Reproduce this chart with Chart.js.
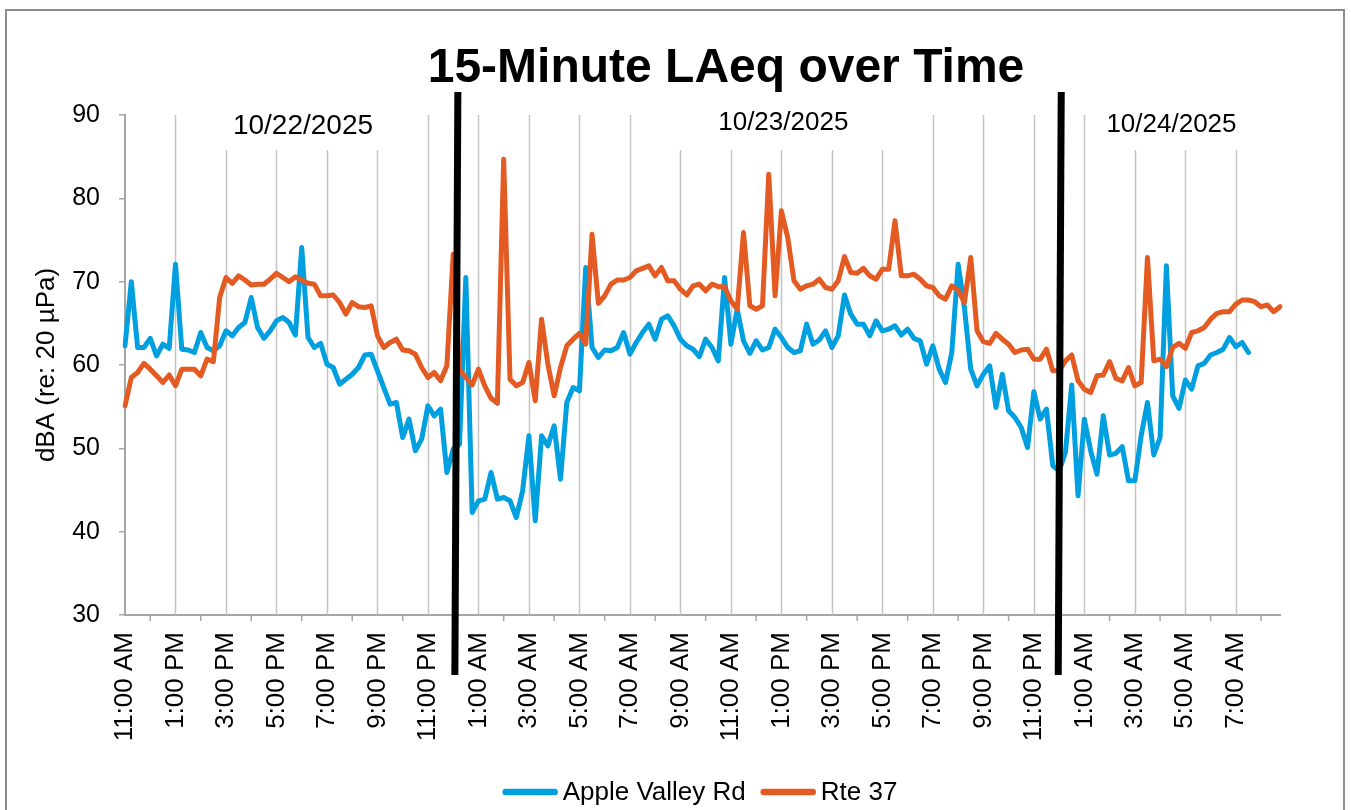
<!DOCTYPE html>
<html>
<head>
<meta charset="utf-8">
<title>15-Minute LAeq over Time</title>
<script src="https://cdn.jsdelivr.net/npm/chart.js@4.4.1/dist/chart.umd.min.js"></script>
<style>
  html, body { margin:0; padding:0; background:#fff; }
  #wrap { width:1351px; height:810px; position:relative; }
</style>
</head>
<body>
<div id="wrap"><canvas id="chart" width="1351" height="810"></canvas></div>
<script>
const FONT = '"Liberation Sans", Arial, sans-serif';

// 15-minute LAeq values (dBA), starting 11:00 AM 10/22/2025
const appleValley = [
  62.3, 70.0, 62.1, 62.1, 63.2, 61.1, 62.5, 62.0, 72.1, 61.9, 61.8, 61.5, 63.9, 62.1, 61.7, 62.3,
  64.1, 63.5, 64.5, 65.1, 68.1, 64.5, 63.2, 64.1, 65.3, 65.7, 65.1, 63.6, 74.1, 63.3, 62.1, 62.6,
  60.1, 59.7, 57.7, 58.3, 58.9, 59.7, 61.2, 61.3, 59.3, 57.3, 55.3, 55.5, 51.3, 53.5, 49.7, 51.1,
  55.1, 53.9, 54.7, 47.1, 49.9, 50.5, 70.5, 42.3, 43.7, 43.9, 47.1, 43.9, 44.1, 43.7, 41.7, 44.9,
  51.5, 41.3, 51.5, 50.3, 52.7, 46.3, 55.5, 57.3, 56.9, 71.7, 62.1, 60.9, 61.8, 61.7, 62.1, 63.9,
  61.3, 62.7, 63.9, 64.9, 63.1, 65.5, 65.9, 64.7, 63.1, 62.3, 61.9, 61.0, 63.1, 62.1, 60.5, 70.5,
  62.5, 66.7, 62.9, 61.4, 62.9, 61.8, 62.1, 64.3, 63.3, 62.1, 61.5, 61.7, 64.9, 62.5, 63.0, 64.1,
  62.1, 63.5, 68.4, 66.1, 64.9, 64.9, 63.5, 65.3, 64.1, 64.3, 64.7, 63.6, 64.3, 63.2, 62.9, 60.1,
  62.3, 59.5, 57.9, 61.5, 72.1, 66.9, 59.5, 57.5, 58.9, 59.9, 54.9, 58.9, 54.5, 53.7, 52.5, 50.1,
  56.8, 53.5, 54.7, 47.9, 47.3, 49.5, 57.6, 44.3, 53.5, 49.7, 46.9, 53.9, 49.2, 49.4, 50.2, 46.1,
  46.1, 51.5, 55.5, 49.2, 51.3, 71.9, 56.3, 54.8, 58.2, 57.1, 59.9, 60.2, 61.2, 61.5, 61.9, 63.3,
  62.2, 62.7, 61.5
];
const rte37 = [
  55.1, 58.5, 59.1, 60.2, 59.5, 58.7, 57.9, 58.8, 57.5, 59.5, 59.5, 59.5, 58.7, 60.7, 60.4, 68.1,
  70.5, 69.8, 70.7, 70.2, 69.6, 69.7, 69.7, 70.3, 71.0, 70.5, 70.0, 70.6, 70.2, 69.8, 69.7, 68.3,
  68.3, 68.4, 67.5, 66.1, 67.5, 67.0, 66.9, 67.1, 63.5, 62.1, 62.7, 63.1, 61.8, 61.7, 61.3, 59.7,
  58.5, 59.1, 58.1, 59.9, 73.3, 59.5, 58.5, 57.6, 59.5, 57.5, 56.0, 55.4, 84.7, 58.3, 57.5, 57.9,
  60.3, 55.7, 65.5, 60.1, 56.3, 59.7, 62.3, 63.1, 63.8, 62.5, 75.7, 67.4, 68.3, 69.7, 70.2, 70.2,
  70.5, 71.3, 71.6, 71.9, 70.7, 71.7, 70.1, 70.1, 69.1, 68.4, 69.5, 69.7, 68.9, 69.7, 69.4, 69.4,
  67.7, 66.7, 75.9, 67.1, 66.7, 67.1, 82.9, 68.3, 78.5, 75.3, 70.1, 69.1, 69.5, 69.7, 70.3, 69.3,
  69.1, 70.1, 73.0, 71.1, 71.0, 71.6, 70.7, 70.3, 71.5, 71.5, 77.3, 70.7, 70.7, 70.9, 70.3, 69.5,
  69.3, 68.3, 67.9, 69.5, 69.0, 67.5, 72.9, 64.1, 62.8, 62.6, 63.8, 63.1, 62.5, 61.5, 61.8, 61.9,
  60.7, 60.7, 61.9, 59.3, 59.3, 60.5, 61.2, 58.1, 57.1, 56.7, 58.7, 58.8, 60.4, 58.4, 58.1, 59.7,
  57.5, 57.9, 72.9, 60.5, 60.7, 59.8, 62.1, 62.6, 62.0, 63.9, 64.1, 64.5, 65.5, 66.2, 66.4, 66.4,
  67.3, 67.8, 67.8, 67.6, 67.0, 67.2, 66.4, 67.0
];
const seriesNames = ['Apple Valley Rd', 'Rte 37'];
// labels every 2 hours (every 8th 15-minute slot)
const tickLabels = [
  '11:00 AM', '1:00 PM', '3:00 PM', '5:00 PM', '7:00 PM', '9:00 PM', '11:00 PM',
  '1:00 AM', '3:00 AM', '5:00 AM', '7:00 AM', '9:00 AM', '11:00 AM',
  '1:00 PM', '3:00 PM', '5:00 PM', '7:00 PM', '9:00 PM', '11:00 PM',
  '1:00 AM', '3:00 AM', '5:00 AM', '7:00 AM'
];
const dateLabels = ['10/22/2025', '10/23/2025', '10/24/2025'];
const slotCount = rte37.length;

const categories = Array.from({ length: slotCount }, (_, i) => (i % 8 === 0 ? (tickLabels[i / 8] || '') : ''));

// placement of the annotation text boxes / day separators (in slot units)
const DATE_BOXES = [
  { center: 28.2, from: 10.5, to: 45.5, base: 134, size: 28 },
  { center: 104.3, from: 83.5, to: 124.5, base: 130, size: 26 },
  { center: 165.8, from: 155, to: 181, base: 132, size: 26 }
];
const DAY_BREAKS = [52.5, 148.1];

const overlay = {
  id: 'overlay',
  beforeDatasetsDraw(chart) {
    const { ctx, chartArea, scales: { x } } = chart;
    ctx.save();
    // vertical grid lines every 2 hours
    ctx.strokeStyle = '#C4C4C4';
    ctx.lineWidth = 1.5;
    for (let i = 8; i < slotCount; i += 8) {
      const gx = Math.round(x.getPixelForValue(i)) + 0.5;
      ctx.beginPath();
      ctx.moveTo(gx, chartArea.top);
      ctx.lineTo(gx, chartArea.bottom);
      ctx.stroke();
    }
    ctx.restore();
  },
  afterDraw(chart) {
    const { ctx, scales: { x } } = chart;
    const px = v => x.getPixelForValue(v);
    ctx.save();

    // small tick marks on the odd hours
    ctx.strokeStyle = '#A6A6A6';
    ctx.lineWidth = 1.5;
    for (let i = 4; i < slotCount; i += 8) {
      ctx.beginPath();
      ctx.moveTo(px(i), 615);
      ctx.lineTo(px(i), 621);
      ctx.stroke();
    }

    // date text boxes (white fill hides the grid lines behind them)
    DATE_BOXES.forEach((b, k) => {
      ctx.fillStyle = '#fff';
      ctx.fillRect(px(b.from), 100, px(b.to) - px(b.from), 50);
      ctx.fillStyle = '#000';
      ctx.font = `${b.size}px ${FONT}`;
      ctx.textAlign = 'center';
      ctx.textBaseline = 'alphabetic';
      ctx.fillText(dateLabels[k], px(b.center), b.base);
    });

    // title
    ctx.fillStyle = '#000';
    ctx.font = `bold 48px ${FONT}`;
    ctx.textAlign = 'center';
    ctx.fillText('15-Minute LAeq over Time', 726, 82);

    // day separator lines
    ctx.strokeStyle = '#000';
    ctx.lineWidth = 7;
    DAY_BREAKS.forEach(v => {
      const cx = px(v);
      ctx.beginPath();
      ctx.moveTo(cx + 1.5, 92);
      ctx.lineTo(cx - 1.5, 675);
      ctx.stroke();
    });

    // legend
    ctx.font = `26px ${FONT}`;
    ctx.textAlign = 'left';
    const items = chart.data.datasets.map(d => ({ label: d.label, color: d.borderColor, w: ctx.measureText(d.label).width }));
    const total = items.reduce((s, it) => s + 60 + it.w, 0) + 15 * (items.length - 1);
    let lx = 700 - total / 2;
    items.forEach(it => {
      ctx.strokeStyle = it.color;
      ctx.lineWidth = 6.5;
      ctx.lineCap = 'round';
      ctx.beginPath();
      ctx.moveTo(lx + 3, 792);
      ctx.lineTo(lx + 52, 792);
      ctx.stroke();
      ctx.fillStyle = '#000';
      ctx.fillText(it.label, lx + 60, 800);
      lx += 60 + it.w + 15;
    });

    // outer frame
    ctx.strokeStyle = '#8C8C8C';
    ctx.lineWidth = 2;
    ctx.strokeRect(6, 10, 1338, 900);
    ctx.restore();
  }
};

new Chart(document.getElementById('chart'), {
  type: 'line',
  data: {
    labels: categories,
    datasets: [
      { label: seriesNames[0], data: appleValley, borderColor: '#009FDF', backgroundColor: '#009FDF', order: 2 },
      { label: seriesNames[1], data: rte37, borderColor: '#E35B22', backgroundColor: '#E35B22', order: 1 }
    ]
  },
  options: {
    responsive: false,
    animation: false,
    devicePixelRatio: 1,
    layout: { padding: { top: 115, right: 71, bottom: 0, left: 0 } },
    elements: {
      line: { borderWidth: 5, tension: 0, borderJoinStyle: 'round', borderCapStyle: 'round' },
      point: { radius: 0, hoverRadius: 0 }
    },
    plugins: { legend: { display: false }, title: { display: false }, tooltip: { enabled: false } },
    scales: {
      x: {
        type: 'category',
        offset: false,
        afterFit: s => { s.height = 195; },
        grid: { drawTicks: false, color: 'rgba(0,0,0,0)' },
        border: { color: '#A6A6A6', width: 2 },
        ticks: {
          autoSkip: false,
          minRotation: 90,
          maxRotation: 90,
          padding: 17,
          color: '#000',
          font: { family: FONT, size: 26 },
          callback: (v, i) => (categories[i] ? categories[i] : null)
        }
      },
      y: {
        min: 30,
        max: 90,
        afterFit: s => { s.width = 125; },
        grid: { drawOnChartArea: false, drawTicks: true, tickLength: 6, color: '#A6A6A6', lineWidth: 1.5 },
        border: { color: '#A6A6A6', width: 2 },
        ticks: { stepSize: 10, padding: 19, color: '#000', font: { family: FONT, size: 25 } },
        title: {
          display: true,
          text: 'dBA (re: 20 µPa)',
          color: '#000',
          font: { family: FONT, size: 26 },
          padding: { top: 31, bottom: 0 }
        }
      }
    }
  },
  plugins: [overlay]
});
</script>
</body>
</html>
